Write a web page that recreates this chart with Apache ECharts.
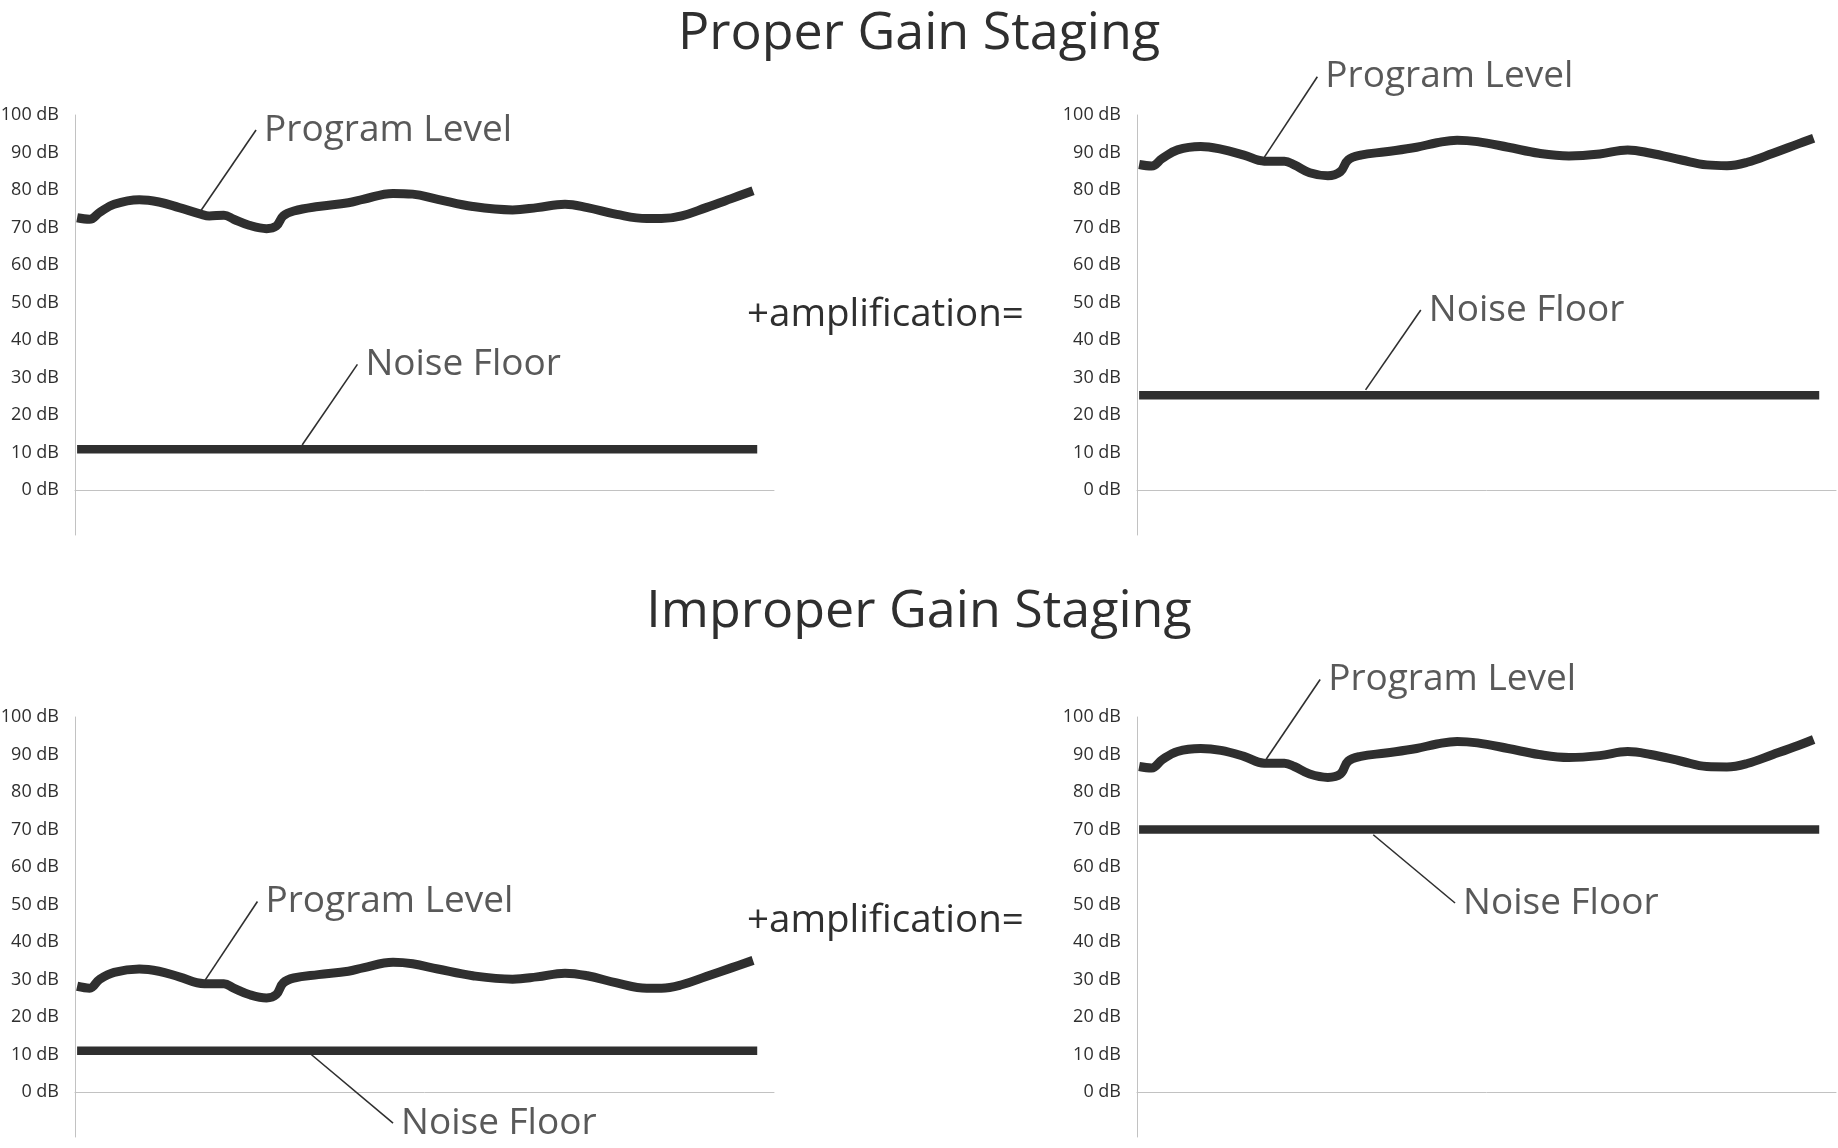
<!DOCTYPE html>
<html>
<head>
<meta charset="utf-8">
<script src="https://cdn.jsdelivr.net/npm/echarts@6/dist/echarts.min.js"></script>
<style>
html,body{margin:0;padding:0;background:#ffffff;}
#chart{width:1838px;height:1148px;}
</style>
</head>
<body>
<div id="chart"></div>
<script>
// ---------------- data ----------------
const titles = ['Proper Gain Staging', 'Improper Gain Staging'];
const middleText = '+amplification=';
const tickValues = [0, 10, 20, 30, 40, 50, 60, 70, 80, 90, 100];
const tickUnit = ' dB';
const labelProgram = 'Program Level';
const labelNoise = 'Noise Floor';

// horizontal position along each panel (0..100 of panel width)
const progX_topLeft = [0.3, 2.1, 3.5, 5.6, 9.2, 12.0, 14.9, 18.1, 19.2, 21.3, 22.7, 24.9, 27.4, 28.8, 29.8, 31.3, 34.8, 39.1, 41.2, 45.5, 48.3, 51.9, 56.9, 62.6, 66.1, 70.1, 73.3, 77.5, 81.8, 83.9, 86.8, 90.3, 93.9, 97.0];
const progY_topLeft = [72.6, 72.2, 74.0, 76.2, 77.4, 76.8, 75.3, 73.5, 73.1, 73.3, 72.2, 70.6, 69.7, 70.4, 73.1, 74.4, 75.6, 76.6, 77.5, 79.1, 78.9, 77.5, 75.6, 74.7, 75.3, 76.2, 75.3, 73.5, 72.4, 72.4, 73.1, 75.3, 77.7, 79.8];

const progX_topRight = [0.3, 2.1, 3.6, 5.8, 9.1, 12.0, 15.3, 18.2, 21.1, 22.5, 24.7, 27.3, 29.1, 30.2, 32.0, 35.6, 40.0, 42.9, 45.8, 48.7, 53.1, 57.5, 61.8, 66.2, 70.2, 73.5, 77.9, 81.5, 84.4, 87.3, 91.0, 94.6, 96.8];
const progY_topRight = [86.8, 86.4, 88.4, 90.7, 91.6, 90.9, 89.3, 87.7, 87.7, 86.7, 84.6, 83.8, 84.9, 88.0, 89.3, 90.2, 91.4, 92.6, 93.3, 92.9, 91.4, 89.8, 89.1, 89.6, 90.7, 89.8, 88.0, 86.7, 86.5, 87.4, 89.8, 92.3, 93.8];

const progX_bottomLeft = [0.3, 2.1, 3.5, 5.6, 9.2, 12.0, 14.9, 18.5, 21.3, 22.7, 24.9, 27.4, 28.8, 29.8, 31.3, 34.8, 39.1, 41.2, 45.5, 48.3, 51.9, 56.9, 62.6, 66.1, 70.1, 73.3, 77.5, 81.8, 83.9, 86.8, 90.3, 93.9, 97.0];
const progY_bottomLeft = [28.2, 27.7, 30.0, 31.9, 32.8, 32.2, 30.7, 28.9, 28.9, 27.7, 26.0, 25.1, 26.0, 29.1, 30.4, 31.3, 32.2, 33.1, 34.6, 34.2, 32.8, 31.0, 30.1, 30.7, 31.7, 31.0, 29.1, 27.7, 27.7, 28.6, 30.8, 33.1, 35.1];

const progX_bottomRight = [0.3, 2.1, 3.6, 5.8, 9.1, 12.0, 15.3, 18.2, 21.1, 22.5, 24.7, 27.3, 29.1, 30.2, 32.0, 35.6, 40.0, 42.9, 45.8, 48.7, 53.1, 57.5, 61.8, 66.2, 70.2, 73.5, 77.9, 81.5, 84.4, 87.3, 91.0, 94.6, 96.8];
const progY_bottomRight = [86.8, 86.4, 88.6, 90.8, 91.6, 91.1, 89.5, 87.7, 87.7, 86.8, 84.8, 83.9, 84.8, 88.2, 89.5, 90.4, 91.6, 92.8, 93.5, 93.1, 91.6, 90.0, 89.2, 89.7, 90.8, 90.0, 88.2, 86.8, 86.7, 87.6, 90.0, 92.4, 94.0];

const noiseX = [0.3, 97.6];
const noiseLevel = [10.9, 25.3, 11.0, 70.0]; // topLeft, topRight, bottomLeft, bottomRight

// annotation leader lines: [x1, y1, x2, y2] in panel data units
const leaderProgram = [
  [17.9, 74.2, 25.9, 96.0],
  [18.2, 88.7, 25.8, 110.2],
  [18.5, 29.5, 26.1, 50.8],
  [18.5, 88.8, 26.2, 110.0]
];
const leaderNoise = [
  [32.5, 12.0, 40.4, 33.5],
  [32.7, 26.7, 40.6, 48.0],
  [33.8, 10.0, 45.5, -8.3],
  [33.8, 68.6, 45.5, 50.4]
];

// ---------------- chart ----------------
const FONT = '"Open Sans", "Noto Sans", sans-serif';
const INK = '#2f2f2f';
const AXIS = '#c2c2c2';

const panels = [
  { left: 75,   top: 115, xs: progX_topLeft,     ys: progY_topLeft },
  { left: 1137, top: 115, xs: progX_topRight,    ys: progY_topRight },
  { left: 75,   top: 717, xs: progX_bottomLeft,  ys: progY_bottomLeft },
  { left: 1137, top: 717, xs: progX_bottomRight, ys: progY_bottomRight }
];

const grid = [], xAxis = [], yAxis = [], series = [];
panels.forEach((p, i) => {
  grid.push({ left: p.left, top: p.top, width: 699, height: 420, containLabel: false, outerBoundsMode: 'none' });
  xAxis.push({
    type: 'value', gridIndex: i, min: 0, max: 100,
    axisLine: { show: true, onZero: true, lineStyle: { color: AXIS, width: 1 } },
    axisTick: { show: false }, axisLabel: { show: false }, splitLine: { show: false }
  });
  yAxis.push({
    type: 'value', gridIndex: i, min: -12, max: 100,
    axisLine: { show: true, lineStyle: { color: AXIS, width: 1 } },
    axisTick: { show: false }, splitLine: { show: false },
    axisLabel: {
      customValues: tickValues,
      formatter: v => v + tickUnit,
      color: INK, fontSize: 18, fontFamily: FONT, margin: 16
    }
  });
  const base = { xAxisIndex: i, yAxisIndex: i, symbol: 'none', silent: true, clip: false, animation: false };
  series.push(Object.assign({}, base, {
    type: 'line', smooth: 0.4,
    data: p.xs.map((x, k) => [x, p.ys[k]]),
    lineStyle: { color: INK, width: 9, cap: 'butt', join: 'round' }, z: 3
  }));
  series.push(Object.assign({}, base, {
    type: 'line',
    data: noiseX.map(x => [x, noiseLevel[i]]),
    lineStyle: { color: INK, width: 8.5, cap: 'butt' }, z: 3
  }));
  [leaderProgram[i], leaderNoise[i]].forEach(l => {
    series.push(Object.assign({}, base, {
      type: 'line',
      data: [[l[0], l[1]], [l[2], l[3]]],
      lineStyle: { color: INK, width: 1.6 }, z: 2
    }));
  });
  series.push({
    type: 'scatter', xAxisIndex: i, yAxisIndex: i, silent: true, clip: false, animation: false,
    symbolSize: 0,
    data: [
      { name: labelProgram, value: [leaderProgram[i][2], leaderProgram[i][3]] },
      { name: labelNoise, value: [leaderNoise[i][2], leaderNoise[i][3]] }
    ],
    label: { show: true, position: 'right', distance: 8, formatter: '{b}', color: INK, fontSize: 37, fontFamily: FONT }
  });
});

const chart = echarts.init(document.getElementById('chart'), null, { renderer: 'canvas' });
chart.setOption({
  backgroundColor: '#ffffff',
  animation: false,
  title: [
    { text: titles[0], left: 'center', top: 3, textStyle: { color: INK, fontSize: 52, fontWeight: 'normal', fontFamily: FONT } },
    { text: titles[1], left: 'center', top: 581, textStyle: { color: INK, fontSize: 52, fontWeight: 'normal', fontFamily: FONT } }
  ],
  graphic: [
    { type: 'text', x: 747, y: 315, silent: true, style: { text: middleText, font: '38.5px ' + FONT, fill: INK, align: 'left', verticalAlign: 'middle' } },
    { type: 'text', x: 747, y: 921, silent: true, style: { text: middleText, font: '38.5px ' + FONT, fill: INK, align: 'left', verticalAlign: 'middle' } }
  ],
  grid: grid,
  xAxis: xAxis,
  yAxis: yAxis,
  series: series
});
</script>
</body>
</html>
